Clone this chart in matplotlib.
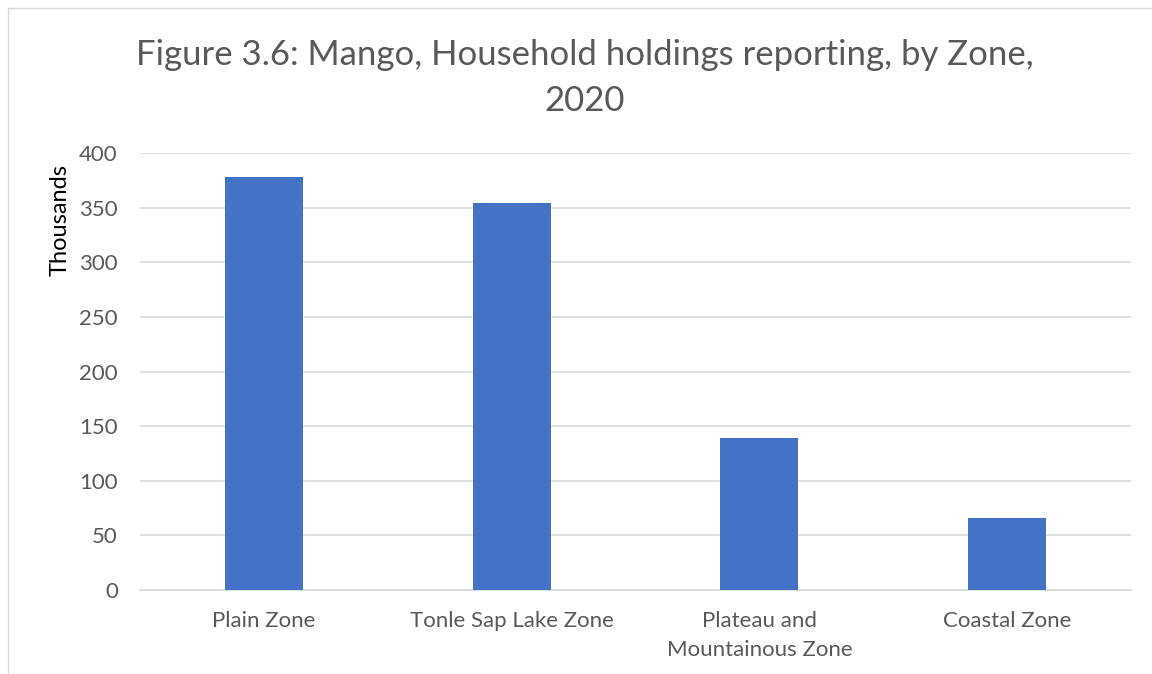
import matplotlib
matplotlib.use("Agg")
import matplotlib.pyplot as plt
from matplotlib.lines import Line2D

categories = ["Plain Zone", "Tonle Sap Lake Zone", "Plateau and\nMountainous Zone", "Coastal Zone"]
values = [378, 354, 139, 66]
yticks = [0, 50, 100, 150, 200, 250, 300, 350, 400]

plt.rcParams['font.family'] = ['Lato', 'DejaVu Sans']

W, H = 1152, 674
fig = plt.figure(figsize=(W/100, H/100), dpi=100)
ax = fig.add_axes([140/W, 1-590/H, (1131-140)/W, (590-153)/H])

x = list(range(len(categories)))
ax.bar(x, values, width=0.315, color="#4472C4", zorder=3)
ax.set_xlim(-0.5, len(categories)-0.5)
ax.set_ylim(0, 400)
ax.set_yticks(yticks)
ax.set_xticks(x)
ax.set_xticklabels(categories, fontsize=16, color="#595959", linespacing=1.6)
ax.set_yticklabels([str(v) for v in yticks], fontsize=16, color="#595959")
ax.tick_params(axis='both', length=0)
ax.tick_params(axis='x', pad=15)
ax.tick_params(axis='y', pad=16)
ax.grid(axis='y', color="#D9D9D9", linewidth=1.2, zorder=0)
for s in ['top', 'right', 'left']:
    ax.spines[s].set_visible(False)
ax.spines['bottom'].set_color("#D9D9D9")
ax.spines['bottom'].set_linewidth(1.2)

fig.text(585/W, 1-55/H, "Figure 3.6: Mango, Household holdings reporting, by Zone,",
         ha='center', va='center', fontsize=25, color="#595959")
fig.text(585/W, 1-101/H, "2020", ha='center', va='center', fontsize=25, color="#595959")
fig.text(60/W, 1-220/H, "Thousands", rotation=90, ha='center', va='center', fontsize=17, color="black")

# frame lines (left and top)
fig.add_artist(Line2D([8/W, 8/W], [0, 1-8/H], transform=fig.transFigure, color="#D9D9D9", linewidth=1))
fig.add_artist(Line2D([8/W, 1], [1-8/H, 1-8/H], transform=fig.transFigure, color="#D9D9D9", linewidth=1))

fig.savefig("out.png", dpi=100)
